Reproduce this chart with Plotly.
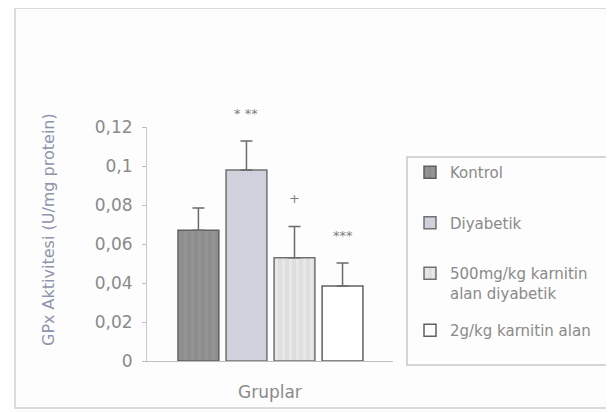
import plotly.graph_objects as go

groups = ["Kontrol", "Diyabetik", "500mg/kg karnitin<br>alan diyabetik", "2g/kg karnitin alan"]
means = [0.067, 0.098, 0.053, 0.0385]
errors = [0.0115, 0.0148, 0.016, 0.0118]
sig_marks = ["", "* **", "+", "***"]
ytick_vals = [0, 0.02, 0.04, 0.06, 0.08, 0.1, 0.12]
ytick_text = ["0", "0,02", "0,04", "0,06", "0,08", "0,1", "0,12"]

fills = ["#8e8e8e", "#cfd2dc", "#dedede", "#ffffff"]
borders = ["#606060", "#707070", "#707070", "#606060"]
patterns = ["|", "", "|", ""]
pat_fg = ["#9c9c9c", "#cfd2dc", "#f4f4f4", "#ffffff"]
legend_ids = ["legend", "legend", "legend", "legend2"]

TXT = "#8a8a8a"
FONT = "DejaVu Sans, sans-serif"

# page body adds an 8px offset; plot area (in page px): x 147..393, y 127..361
OFF = 8
PL, PR, PT, PB = 147, 393, 127, 361
PW, PH = PR - PL, PB - PT


def px(x):
    return (x - PL) / PW


def py(y):
    return (PB - y) / PH


fig = go.Figure()
for i, g in enumerate(groups):
    fig.add_trace(go.Bar(
        x=[i], y=[means[i]], name=g, width=0.85,
        legendgroup=str(i), legend=legend_ids[i],
        marker=dict(color=fills[i], line=dict(color=borders[i], width=1.5),
                    pattern=dict(shape=patterns[i], fgcolor=pat_fg[i], bgcolor=fills[i],
                                 size=7, solidity=0.35)),
        error_y=dict(type="data", symmetric=False, array=[errors[i]], arrayminus=[0],
                     color="#6a6a6a", thickness=1.5, width=6),
    ))

annotations = []
for i, s in enumerate(sig_marks):
    if s:
        annotations.append(dict(x=i, y=means[i] + errors[i], text=s, showarrow=False,
                                yanchor="bottom", yshift=18,
                                font=dict(family=FONT, size=13, color="#7e7e7e")))
annotations.append(dict(xref="paper", yref="paper", x=px(48), y=py(230),
                        xanchor="center", yanchor="middle",
                        text="GPx Aktivitesi (U/mg protein)", textangle=-90, showarrow=False,
                        font=dict(family=FONT, size=16, color="#8f94ad")))
annotations.append(dict(xref="paper", yref="paper", x=0.5, y=py(392),
                        xanchor="center", yanchor="middle",
                        text="Gruplar", showarrow=False,
                        font=dict(family=FONT, size=17, color=TXT)))

shapes = [
    dict(type="rect", xref="paper", yref="paper", x0=px(15), x1=px(609), y0=py(408), y1=py(8),
         line=dict(color="#cfcfcf", width=1.5), fillcolor="rgba(0,0,0,0)", layer="below"),
    dict(type="rect", xref="paper", yref="paper", x0=px(407), x1=px(630), y0=py(365), y1=py(157),
         line=dict(color="#c8c8c8", width=1.5), fillcolor="rgba(0,0,0,0)"),
]

legfont = dict(family=FONT, size=15, color=TXT)
fig.update_layout(
    width=614, height=412,
    margin=dict(l=PL - OFF, r=614 - (PR - OFF), t=PT - OFF, b=412 - (PB - OFF)),
    paper_bgcolor="#fdfdfd", plot_bgcolor="#fdfdfd",
    barmode="overlay",
    showlegend=True,
    legend=dict(x=px(410), y=py(156), xanchor="left", yanchor="top",
                traceorder="grouped", tracegroupgap=28, valign="top",
                font=legfont, bgcolor="rgba(0,0,0,0)", borderwidth=0),
    legend2=dict(x=px(410), y=py(314), xanchor="left", yanchor="top",
                 font=legfont, bgcolor="rgba(0,0,0,0)", borderwidth=0),
    xaxis=dict(range=[-1.07, 4.05], showticklabels=False, ticks="", showgrid=False,
               zeroline=False, showline=True, linecolor="#bdbdbd", linewidth=1),
    yaxis=dict(range=[0, 0.12], tickvals=ytick_vals, ticktext=ytick_text,
               ticks="outside", ticklen=4, tickcolor="#bdbdbd", showgrid=False,
               zeroline=False, showline=True, linecolor="#c8c8c8", linewidth=1,
               ticklabelstandoff=6,
               tickfont=dict(family=FONT, size=17, color=TXT)),
    annotations=annotations, shapes=shapes,
)

fig.write_html("out.html")
